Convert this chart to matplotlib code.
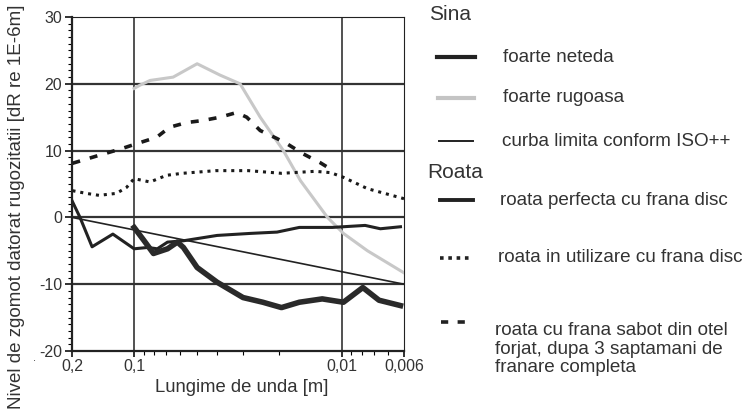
import matplotlib
matplotlib.use("Agg")
import matplotlib.pyplot as plt
from matplotlib.lines import Line2D
from matplotlib.ticker import FixedLocator, MultipleLocator, NullFormatter, LogLocator

plt.rcParams['font.family'] = ['Liberation Sans', 'DejaVu Sans']
plt.rcParams['axes.unicode_minus'] = False

# ---- data (wavelength in m, level in dB) ----
rugoasa_x = [0.1003, 0.0939, 0.084, 0.065, 0.0498, 0.0386, 0.0309, 0.0247, 0.0191, 0.0158, 0.0117, 0.0098, 0.0075, 0.0050]
rugoasa_y = [19.3, 19.8, 20.5, 21.0, 23.0, 21.3, 20.0, 15.0, 10.0, 5.5, 0.0, -2.4, -5.0, -8.3]

neteda_x = [0.1003, 0.0902, 0.0809, 0.0692, 0.0620, 0.0580, 0.0498, 0.0399, 0.0299, 0.0240, 0.0195, 0.0160, 0.0124, 0.0098, 0.0079, 0.0066, 0.0052]
neteda_y = [-1.5, -3.4, -5.4, -4.7, -3.7, -4.5, -7.5, -9.7, -12.0, -12.7, -13.5, -12.7, -12.2, -12.7, -10.5, -12.4, -13.2]

iso_x = [0.2, 0.005]
iso_y = [0.0, -10.0]

perfecta_x = [0.2, 0.183, 0.160, 0.127, 0.1003, 0.0862, 0.0775, 0.0692, 0.0580, 0.0399, 0.0277, 0.0205, 0.0160, 0.0111, 0.0077, 0.0065, 0.0052]
perfecta_y = [2.5, 0.0, -4.4, -2.5, -4.7, -4.5, -4.7, -3.7, -3.5, -2.7, -2.4, -2.2, -1.5, -1.5, -1.2, -1.7, -1.4]

utilizare_x = [0.199, 0.171, 0.148, 0.122, 0.109, 0.1003, 0.084, 0.070, 0.0587, 0.0404, 0.0282, 0.0195, 0.0134, 0.0113, 0.0098, 0.0075, 0.0050]
utilizare_y = [4.0, 3.6, 3.3, 3.6, 4.5, 5.8, 5.3, 6.3, 6.6, 7.0, 7.0, 6.6, 6.9, 6.7, 6.0, 4.3, 2.8]

sabot_x = [0.199, 0.148, 0.115, 0.0939, 0.078, 0.0676, 0.0559, 0.0468, 0.0386, 0.0321, 0.0287, 0.0247, 0.0205, 0.0183, 0.0153, 0.0127, 0.0110]
sabot_y = [8.1, 9.3, 10.3, 11.2, 12.0, 13.5, 14.2, 14.5, 15.0, 15.7, 15.0, 13.0, 11.8, 11.0, 9.5, 8.2, 7.0]

x_ticks = [0.2, 0.1, 0.01, 0.005]
x_ticklabels = ['0,2', '0,1', '0,01', '0,006']
y_ticks = [-20, -10, 0, 10, 20, 30]

TXT = '#333333'

fig = plt.figure(figsize=(7.54, 4.16), dpi=100)
ax = fig.add_axes([72/754, 1-351/416, (404-72)/754, (351-17)/416])

ax.set_xscale('log')
ax.set_xlim(0.2, 0.005)
ax.set_ylim(-20, 30)

# grid lines
for gy in [-10, 0, 10, 20]:
    ax.axhline(gy, color='#333333', lw=1.6, zorder=1)
for gx in [0.1, 0.01]:
    ax.axvline(gx, color='#333333', lw=1.2, zorder=1)

ax.plot(rugoasa_x, rugoasa_y, color='#c8c8c8', lw=2.2, zorder=3)
ax.plot(sabot_x, sabot_y, color='#1a1a1a', lw=2.6, ls=(0, (2.2, 2.8)), zorder=3)
ax.plot(utilizare_x, utilizare_y, color='#1a1a1a', lw=2.2, ls=(0, (1, 1.6)), zorder=3)
ax.plot(iso_x, iso_y, color='#222222', lw=1.2, zorder=3)
ax.plot(perfecta_x, perfecta_y, color='#222222', lw=2.2, zorder=4)
ax.plot(neteda_x, neteda_y, color='#2a2a2a', lw=4.0, zorder=4)

ax.xaxis.set_major_locator(FixedLocator(x_ticks))
ax.set_xticklabels(x_ticklabels)
ax.xaxis.set_minor_locator(LogLocator(base=10, subs=[2, 3, 4, 5, 6, 7, 8, 9], numticks=10))
ax.xaxis.set_minor_formatter(NullFormatter())
ax.yaxis.set_major_locator(FixedLocator(y_ticks))
ax.yaxis.set_minor_locator(MultipleLocator(1))

ax.tick_params(axis='both', which='major', labelsize=11.5, colors='#222222', labelcolor=TXT,
               width=1.3, length=5, direction='out', pad=2)
ax.tick_params(axis='y', which='minor', length=3, width=0.8, direction='out')
ax.tick_params(axis='x', which='minor', length=3, width=0.8, direction='out')
ax.tick_params(axis='x', which='major', length=4)

ax.spines['left'].set_linewidth(1.6)
ax.spines['bottom'].set_linewidth(1.6)
ax.spines['top'].set_linewidth(0.8)
ax.spines['right'].set_linewidth(0.8)
for s in ax.spines.values():
    s.set_color('#222222')

fig.text(242/754, 1-388/416, 'Lungime de unda [m]', fontsize=13.3, color=TXT, ha='center', va='center')
fig.text(17/754, 1-207/416, 'Nivel de zgomot datorat rugozitatii [dR re 1E-6m]', rotation=90,
         fontsize=13.5, color=TXT, ha='center', va='center')
fig.text(35/754, 1-361/416, '.', fontsize=8, color=TXT, ha='center', va='baseline')

# ---- legend drawn manually ----
def fy(p):
    return 1 - p/416

def fx(p):
    return p/754

fig.text(fx(429), fy(15), 'Sina', fontsize=15, color=TXT, va='center', ha='left')
fig.text(fx(427), fy(172), 'Roata', fontsize=15, color=TXT, va='center', ha='left')

LEG_FS = 13.6
entries = [
    (57, 'foarte neteda', dict(color='#222222', lw=3.0, ls='-'), 503, (437, 475)),
    (98, 'foarte rugoasa', dict(color='#c4c4c4', lw=3.0, ls='-'), 503, (438, 474)),
    (141, 'curba limita conform ISO++', dict(color='#222222', lw=1.4, ls='-'), 502, (439, 473)),
    (200, 'roata perfecta cu frana disc', dict(color='#222222', lw=2.8, ls='-'), 500, (440, 473)),
    (258, 'roata in utilizare cu frana disc', dict(color='#222222', lw=2.6, ls=(0, (1.0, 1.3))), 498, (440, 472)),
]
for py, label, style, tx, (x0, x1) in entries:
    fig.add_artist(Line2D([fx(x0), fx(x1)], [fy(py), fy(py)], transform=fig.transFigure, **style))
    fig.text(fx(tx), fy(py), label, fontsize=LEG_FS, color=TXT, va='center', ha='left')

fig.add_artist(Line2D([fx(441), fx(467)], [fy(322), fy(322)], transform=fig.transFigure,
                      color='#222222', lw=2.6, ls=(0, (2.0, 2.6))))
fig.text(fx(495), fy(349), 'roata cu frana sabot din otel\nforjat, dupa 3 saptamani de\nfranare completa',
         fontsize=LEG_FS, color=TXT, va='center', ha='left', linespacing=1.1)

fig.savefig('out.png', dpi=100)
